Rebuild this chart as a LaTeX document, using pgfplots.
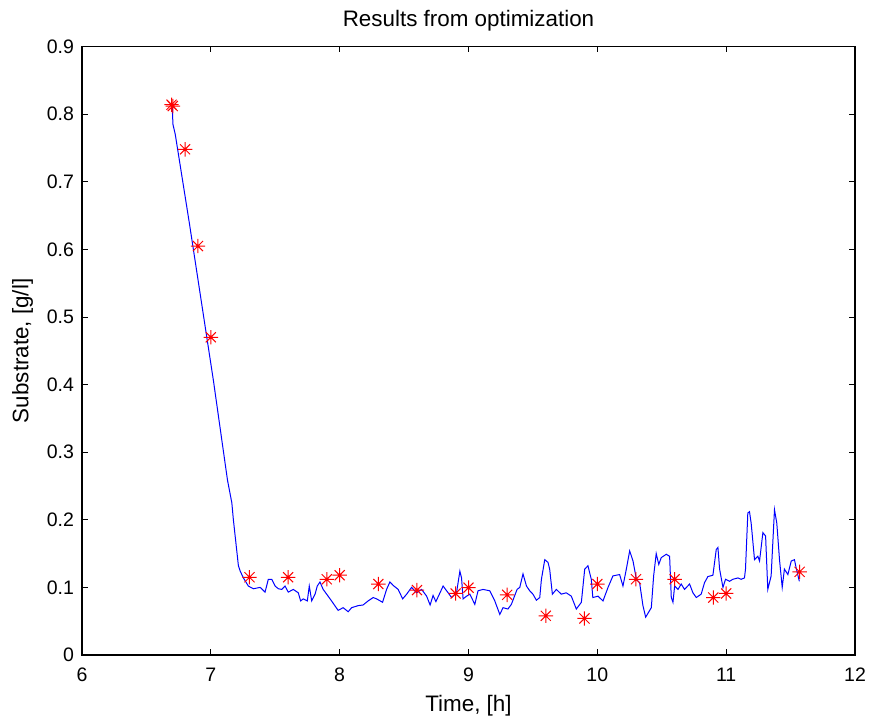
\documentclass[border=0pt]{standalone}
\usepackage{pgfplots}
\pgfplotsset{compat=1.18}
\usepackage{fontspec}
\setmainfont{Liberation Sans}
\pgfdeclareplotmark{mstar}{%
  \pgfpathmoveto{\pgfqpoint{-\pgfplotmarksize}{0pt}}\pgfpathlineto{\pgfqpoint{\pgfplotmarksize}{0pt}}%
  \pgfpathmoveto{\pgfqpoint{0pt}{-\pgfplotmarksize}}\pgfpathlineto{\pgfqpoint{0pt}{\pgfplotmarksize}}%
  \pgfpathmoveto{\pgfqpoint{-0.7\pgfplotmarksize}{-0.7\pgfplotmarksize}}\pgfpathlineto{\pgfqpoint{0.7\pgfplotmarksize}{0.7\pgfplotmarksize}}%
  \pgfpathmoveto{\pgfqpoint{-0.7\pgfplotmarksize}{0.7\pgfplotmarksize}}\pgfpathlineto{\pgfqpoint{0.7\pgfplotmarksize}{-0.7\pgfplotmarksize}}%
  \pgfusepathqstroke}
\begin{document}
\begin{tikzpicture}
\begin{axis}[
  scale only axis,
  width=386.5pt, height=304.2pt,
  xmin=6, xmax=12, ymin=0, ymax=0.9,
  xtick={6,7,8,9,10,11,12},
  ytick={0,0.1,0.2,0.3,0.4,0.5,0.6,0.7,0.8,0.9},
  yticklabels={0,0.1,0.2,0.3,0.4,0.5,0.6,0.7,0.8,0.9},
  tick align=inside,
  major tick length=2.8pt,
  axis line style={line width=0.6pt},
  every tick/.style={black, line width=0.4pt},
  tick label style={font=\fontsize{9.75}{11}\selectfont},
  /pgf/number format/assume math mode=true,
  xticklabel style={yshift=-3pt},
  yticklabel style={xshift=-0.5pt},
  title={Results from optimization},
  title style={font=\fontsize{11.2}{13}\selectfont, yshift=-1.6pt},
  xlabel={Time, [h]},
  ylabel={Substrate, [g/l]},
  label style={font=\fontsize{11.2}{13}\selectfont},
  xlabel style={yshift=0pt},
  ylabel style={yshift=0pt},
  clip=false,
]
\coordinate (o) at (rel axis cs:0,0);
\addplot[blue, line width=0.5pt, mark=none] coordinates {
(6.700,0.812) (6.706,0.785) (6.724,0.770) (6.834,0.638) (7.020,0.406)
(7.129,0.259) (7.163,0.225) (7.175,0.200) (7.214,0.132) (7.228,0.124)
(7.253,0.114) (7.291,0.102) (7.330,0.098) (7.383,0.100) (7.421,0.093)
(7.446,0.112) (7.473,0.112) (7.499,0.102) (7.524,0.098) (7.550,0.097)
(7.576,0.102) (7.601,0.093) (7.640,0.097) (7.679,0.092) (7.697,0.080)
(7.717,0.083) (7.749,0.080) (7.764,0.102) (7.783,0.080) (7.809,0.090)
(7.826,0.102) (7.847,0.108) (7.872,0.097) (7.899,0.090) (7.937,0.080)
(7.988,0.066) (8.027,0.070) (8.066,0.064) (8.093,0.070) (8.143,0.073)
(8.182,0.074) (8.221,0.080) (8.260,0.085) (8.287,0.083) (8.333,0.078)
(8.364,0.097) (8.390,0.108) (8.415,0.103) (8.454,0.097) (8.489,0.083)
(8.520,0.090) (8.558,0.100) (8.597,0.092) (8.636,0.097) (8.675,0.087)
(8.702,0.074) (8.725,0.088) (8.747,0.079) (8.803,0.102) (8.830,0.095)
(8.869,0.085) (8.907,0.092) (8.933,0.124) (8.946,0.114) (8.958,0.083)
(8.985,0.087) (9.010,0.090) (9.049,0.075) (9.074,0.095) (9.113,0.097)
(9.165,0.095) (9.204,0.080) (9.243,0.060) (9.268,0.070) (9.306,0.068)
(9.333,0.075) (9.377,0.097) (9.398,0.100) (9.423,0.120) (9.450,0.102)
(9.475,0.095) (9.500,0.090) (9.527,0.081) (9.553,0.085) (9.566,0.112)
(9.592,0.141) (9.617,0.137) (9.630,0.127) (9.651,0.090) (9.682,0.097)
(9.720,0.090) (9.759,0.092) (9.798,0.087) (9.837,0.068) (9.876,0.078)
(9.902,0.127) (9.927,0.132) (9.953,0.112) (9.965,0.085) (10.005,0.087)
(10.044,0.080) (10.083,0.100) (10.121,0.117) (10.173,0.119) (10.199,0.102)
(10.225,0.127) (10.251,0.154) (10.277,0.139) (10.303,0.112) (10.328,0.107)
(10.354,0.073) (10.375,0.056) (10.419,0.070) (10.437,0.117) (10.457,0.150)
(10.477,0.134) (10.496,0.144) (10.535,0.149) (10.561,0.146) (10.574,0.085)
(10.587,0.078) (10.600,0.102) (10.626,0.097) (10.651,0.105) (10.677,0.097)
(10.716,0.105) (10.742,0.092) (10.768,0.085) (10.806,0.090) (10.832,0.107)
(10.858,0.116) (10.897,0.118) (10.923,0.156) (10.936,0.159) (10.949,0.127)
(10.975,0.100) (10.995,0.112) (11.026,0.109) (11.052,0.112) (11.091,0.114)
(11.116,0.112) (11.142,0.114) (11.150,0.127) (11.168,0.210) (11.181,0.212)
(11.194,0.195) (11.220,0.141) (11.246,0.146) (11.259,0.139) (11.285,0.181)
(11.306,0.176) (11.323,0.097) (11.349,0.117) (11.375,0.215) (11.393,0.195)
(11.414,0.141) (11.435,0.100) (11.452,0.127) (11.479,0.119) (11.505,0.139)
(11.530,0.141) (11.543,0.129) (11.568,0.109)
};
\addplot[red, only marks, mark=mstar, mark size=3.6pt, line width=0.5pt] coordinates {
(6.695,0.814) (6.705,0.812) (6.80,0.748) (6.90,0.605) (7.00,0.470)
(7.30,0.115) (7.60,0.115) (7.90,0.112) (8.00,0.118) (8.30,0.105)
(8.60,0.096) (8.90,0.091) (9.00,0.0996) (9.30,0.089) (9.60,0.058)
(9.90,0.054) (10.00,0.105) (10.30,0.112) (10.60,0.112) (10.90,0.085)
(11.00,0.091) (11.57,0.123)
};
\end{axis}
\pgfresetboundingbox
\path (o) ++(-41pt,-35.5pt) rectangle ++(436pt,363pt);
\end{tikzpicture}
\end{document}
